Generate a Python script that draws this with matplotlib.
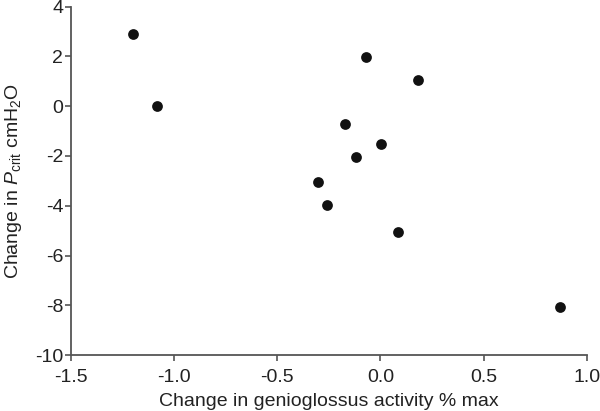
import matplotlib
matplotlib.use("Agg")
import matplotlib.pyplot as plt

# change in genioglossus activity (% max) vs change in Pcrit (cmH2O)
gg_change = [-1.20, -1.08, -0.07, 0.18, -0.17, 0.005, -0.12, -0.30, -0.26, 0.086, 0.87]
pcrit_change = [2.91, 0.0, 1.99, 1.07, -0.71, -1.53, -2.05, -3.04, -3.96, -5.04, -8.05]

x_ticks = [-1.5, -1.0, -0.5, 0.0, 0.5, 1.0]
y_ticks = [4, 2, 0, -2, -4, -6, -8, -10]

plt.rcParams['font.family'] = ['Liberation Sans', 'DejaVu Sans']
plt.rcParams['mathtext.fontset'] = 'custom'
plt.rcParams['mathtext.rm'] = 'Liberation Sans'
plt.rcParams['mathtext.it'] = 'Liberation Sans:italic'

fig = plt.figure(figsize=(6.0, 4.11), dpi=100)
ax = fig.add_axes([0.118, 0.136, 0.86, 0.848])

ax.scatter(gg_change, pcrit_change, s=60, color='#111111', zorder=3, linewidths=0)

ax.set_xlim(-1.5, 1.0)
ax.set_ylim(-10, 4)
ax.set_xticks(x_ticks)
ax.set_xticklabels([f"{t:.1f}" for t in x_ticks])
ax.set_yticks(y_ticks)
ax.set_yticklabels([str(t) for t in y_ticks])

for side in ['top', 'right']:
    ax.spines[side].set_visible(False)
for side in ['left', 'bottom']:
    ax.spines[side].set_color('#555555')
    ax.spines[side].set_linewidth(1.3)

ax.tick_params(direction='out', length=4, width=1.2, color='#555555',
               labelsize=14, labelcolor='#222222')
ax.tick_params(axis='x', pad=6)
ax.tick_params(axis='y', pad=1.5)

ax.set_xlabel('Change in genioglossus activity % max', fontsize=14, color='#222222', labelpad=5)
ax.set_ylabel(r'Change in $\mathit{P}_{\mathrm{crit}}$ cmH$_2$O', fontsize=14, color='#222222', labelpad=8)

fig.savefig('out.png', dpi=100)
